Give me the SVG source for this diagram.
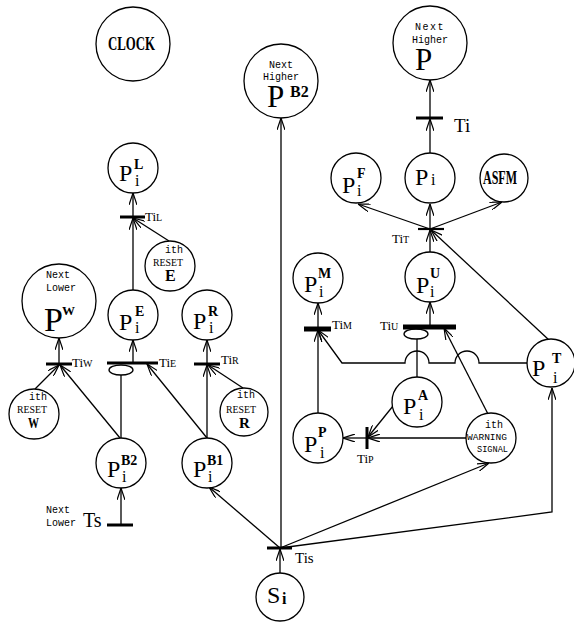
<svg xmlns="http://www.w3.org/2000/svg" width="574" height="623" viewBox="0 0 574 623">
<style>
.c{fill:#fff;stroke:#000;stroke-width:1.3}
.l{fill:none;stroke:#000;stroke-width:1.3}
.a{fill:none;stroke:#000;stroke-width:1.3;marker-end:url(#ah)}
.bar{stroke:#000;stroke-width:3}
.bar2{stroke:#000;stroke-width:5}
.bar1{stroke:#000;stroke-width:2.2}
text{fill:#000}
.p{font-family:"Liberation Serif",serif;font-size:24px}
.pb{font-family:"Liberation Serif",serif;font-size:31px}
.sup{font-family:"Liberation Serif",serif;font-weight:bold;font-size:14px}
.sub{font-family:"Liberation Serif",serif;font-size:16px}
.sm{font-family:"Liberation Mono",monospace;font-size:10px}
.lbl{font-family:"Liberation Serif",serif;font-size:13px}
.bd{font-family:"Liberation Serif",serif;font-weight:bold}
</style>
<defs>
<marker id="ah" viewBox="0 0 12 8" refX="12" refY="4" markerWidth="12" markerHeight="8" markerUnits="userSpaceOnUse" orient="auto">
<path d="M0,0 L12,4 L0,8" fill="none" stroke="#000" stroke-width="1.2"/>
</marker>
</defs>
<rect width="574" height="623" fill="#fff"/>

<g id="connectors">
<path class="a" d="M430,153 L430,119"/>
<path class="a" d="M430,118 L430,80"/>
<path class="a" d="M430,229 L358,204"/>
<path class="a" d="M430,229 L430,204"/>
<path class="a" d="M430,229 L502,202"/>
<path class="a" d="M430,253 L430,230"/>
<path class="a" d="M549,340 L431,230"/>
<path class="a" d="M430,327 L430,302"/>
<path class="l" d="M417,339 L417,377"/>
<ellipse class="l" cx="416" cy="334" rx="12" ry="5"/>
<path class="a" d="M488,414 L444,328"/>
<path class="a" d="M528,363 H479 A12,12 0 0 0 455,363 H429 A12,12 0 0 0 405,363 H342 L318,330"/>
<path class="a" d="M318,413 L318,330"/>
<path class="a" d="M318,329 L318,303"/>
<path class="a" d="M466,438 L368,438"/>
<path class="a" d="M393,406 L368,437"/>
<path class="a" d="M367,438 L343,438"/>
<path class="a" d="M280,573 L280,549"/>
<path class="a" d="M281,548 L281,118"/>
<path class="a" d="M280,548 L209,487"/>
<path class="a" d="M280,548 L489,463"/>
<path class="a" d="M280,548 L552,512 L552,388"/>
<path class="a" d="M133,217 L133,193"/>
<path class="a" d="M133,290 L133,218"/>
<path class="a" d="M169,241 L133,218"/>
<path class="a" d="M133,363 L133,340"/>
<path class="a" d="M207,438 L147,364"/>
<path class="l" d="M121,438 L121,375"/>
<ellipse class="l" cx="121" cy="370" rx="12" ry="5"/>
<path class="a" d="M207,363 L207,340"/>
<path class="a" d="M207,438 L207,365"/>
<path class="a" d="M243,388 L208,365"/>
<path class="a" d="M59,364 L59,338"/>
<path class="a" d="M35,389 L59,365"/>
<path class="a" d="M120,438 L60,365"/>
<path class="a" d="M121,525 L121,488"/>
</g>

<g id="transitions">
<line class="bar" x1="416" y1="118" x2="443" y2="118"/>
<line class="bar1" x1="418" y1="229" x2="444" y2="229"/>
<line class="bar2" x1="403" y1="327" x2="456" y2="327"/>
<line class="bar2" x1="304" y1="329" x2="331" y2="329"/>
<line class="bar" x1="367" y1="427" x2="367" y2="449"/>
<line class="bar" x1="267" y1="548" x2="292" y2="548"/>
<line class="bar" x1="120" y1="217" x2="145" y2="217"/>
<line class="bar" x1="107" y1="363" x2="158" y2="363"/>
<line class="bar" x1="194" y1="364" x2="220" y2="364"/>
<line class="bar" x1="46" y1="364" x2="72" y2="364"/>
<line class="bar" x1="107" y1="525" x2="133" y2="525"/>
<text class="lbl" x="454" y="132" style="font-size:19px">Ti</text>
<text class="lbl" x="392" y="243">Ti<tspan style="font-size:10px">T</tspan></text>
<text class="lbl" x="380" y="330">Ti<tspan style="font-size:10px">U</tspan></text>
<text class="lbl" x="332" y="329">Ti<tspan style="font-size:10px">M</tspan></text>
<text class="lbl" x="357" y="463">Ti<tspan style="font-size:10px">P</tspan></text>
<text class="lbl" x="295" y="563" style="font-size:15px">Tis</text>
<text class="lbl" x="145" y="221">Ti<tspan style="font-size:10px">L</tspan></text>
<text class="lbl" x="159" y="367">Ti<tspan style="font-size:10px">E</tspan></text>
<text class="lbl" x="221" y="364">Ti<tspan style="font-size:10px">R</tspan></text>
<text class="lbl" x="72" y="367">Ti<tspan style="font-size:10px">W</tspan></text>
<text class="sm" x="46" y="513">Next</text>
<text class="sm" x="46" y="526">Lower</text>
<text class="lbl" x="83" y="527" style="font-size:20px">Ts</text>
</g>

<g id="clock"><circle class="c" cx="133" cy="44" r="37"/><text class="bd" x="108" y="50" style="font-size:19px" textLength="47" lengthAdjust="spacingAndGlyphs">CLOCK</text></g>

<g id="pL"><circle class="c" cx="133" cy="168" r="25"/><text class="p" x="119" y="181">P</text><text class="sup" x="134" y="169">L</text><text class="sub" x="135" y="186">i</text></g>

<g id="pB2next"><circle class="c" cx="281" cy="81" r="37"/><text class="sm" x="281" y="68" text-anchor="middle">Next</text><text class="sm" x="281" y="80" text-anchor="middle">Higher</text><text class="pb" x="267" y="107">P</text><text class="sup" x="290" y="97" style="font-size:16px">B2</text></g>

<g id="pNext"><circle class="c" cx="430" cy="43" r="37"/><text class="sm" x="430" y="30" text-anchor="middle" letter-spacing="1.5">Next</text><text class="sm" x="430" y="43" text-anchor="middle">Higher</text><text class="pb" x="415" y="70">P</text></g>

<g id="pi"><circle class="c" cx="430" cy="178" r="25"/><text class="p" x="415" y="185">P</text><text class="sub" x="431" y="185">i</text></g>

<g id="asfm"><circle class="c" cx="504" cy="178" r="24"/><text class="bd" x="483" y="184" style="font-size:18px" textLength="34" lengthAdjust="spacingAndGlyphs">ASFM</text></g>

<g id="pF"><circle class="c" cx="356" cy="178" r="25"/><text class="p" x="342" y="193">P</text><text class="sup" x="357" y="178">F</text><text class="sub" x="357" y="196">i</text></g>

<g id="resetE"><circle class="c" cx="170" cy="266" r="25"/><text class="sm" x="174" y="253" text-anchor="middle">ith</text><text class="lbl" x="153" y="266" style="font-size:11px" textLength="30" lengthAdjust="spacingAndGlyphs">RESET</text><text class="bd" x="165" y="281" style="font-size:16px">E</text></g>

<g id="pW"><circle class="c" cx="59" cy="301" r="37"/><text class="sm" x="46" y="278">Next</text><text class="sm" x="46" y="291">Lower</text><text class="pb" x="44" y="331" style="font-size:34px">P</text><text class="sup" x="62" y="315" style="font-size:13px">W</text></g>

<g id="pE"><circle class="c" cx="133" cy="315" r="25"/><text class="p" x="119" y="330">P</text><text class="sup" x="135" y="316">E</text><text class="sub" x="135" y="333">i</text></g>

<g id="pR"><circle class="c" cx="207" cy="315" r="25"/><text class="p" x="193" y="329">P</text><text class="sup" x="208" y="316">R</text><text class="sub" x="209" y="333">i</text></g>

<g id="pM"><circle class="c" cx="318" cy="278" r="25"/><text class="p" x="304" y="292">P</text><text class="sup" x="318" y="278">M</text><text class="sub" x="319" y="297">i</text></g>

<g id="pU"><circle class="c" cx="430" cy="277" r="25"/><text class="p" x="416" y="293">P</text><text class="sup" x="430" y="278">U</text><text class="sub" x="430" y="297">i</text></g>

<g id="pT"><circle class="c" cx="551" cy="363" r="24"/><text class="p" x="532" y="376">P</text><text class="sup" x="552" y="363">T</text><text class="sub" x="553" y="383">i</text></g>

<g id="pA"><circle class="c" cx="417" cy="402" r="25"/><text class="p" x="403" y="414">P</text><text class="sup" x="418" y="400">A</text><text class="sub" x="419" y="420">i</text></g>

<g id="resetW"><circle class="c" cx="34" cy="414" r="25"/><text class="sm" x="38" y="400" text-anchor="middle">ith</text><text class="lbl" x="17" y="413" style="font-size:11px" textLength="30" lengthAdjust="spacingAndGlyphs">RESET</text><text class="bd" x="28" y="428" style="font-size:15px" textLength="11" lengthAdjust="spacingAndGlyphs">W</text></g>

<g id="resetR"><circle class="c" cx="244" cy="412" r="24"/><text class="sm" x="246" y="398" text-anchor="middle">ith</text><text class="lbl" x="226" y="413" style="font-size:11px" textLength="30" lengthAdjust="spacingAndGlyphs">RESET</text><text class="bd" x="239" y="428" style="font-size:15px">R</text></g>

<g id="pP"><circle class="c" cx="318" cy="438" r="25"/><text class="p" x="304" y="452">P</text><text class="sup" x="318" y="437">P</text><text class="sub" x="320" y="458">i</text></g>

<g id="warning"><circle class="c" cx="491" cy="438" r="25"/><text class="sm" x="494" y="428" text-anchor="middle">ith</text><text class="sm" x="467" y="440" style="font-size:9px" textLength="40" lengthAdjust="spacingAndGlyphs">WARNING</text><text class="sm" x="477" y="452" style="font-size:9px" textLength="31" lengthAdjust="spacingAndGlyphs">SIGNAL</text></g>

<g id="pB2"><circle class="c" cx="121" cy="463" r="25"/><text class="p" x="107" y="477">P</text><text class="sup" x="121" y="465">B2</text><text class="sub" x="122" y="482">i</text></g>

<g id="pB1"><circle class="c" cx="207" cy="463" r="25"/><text class="p" x="193" y="477">P</text><text class="sup" x="207" y="465">B1</text><text class="sub" x="208" y="482">i</text></g>

<g id="si"><circle class="c" cx="280" cy="597" r="24"/><text class="p" x="267" y="603">S</text><text class="sub" x="282" y="604" font-weight="bold">i</text></g>
</svg>
